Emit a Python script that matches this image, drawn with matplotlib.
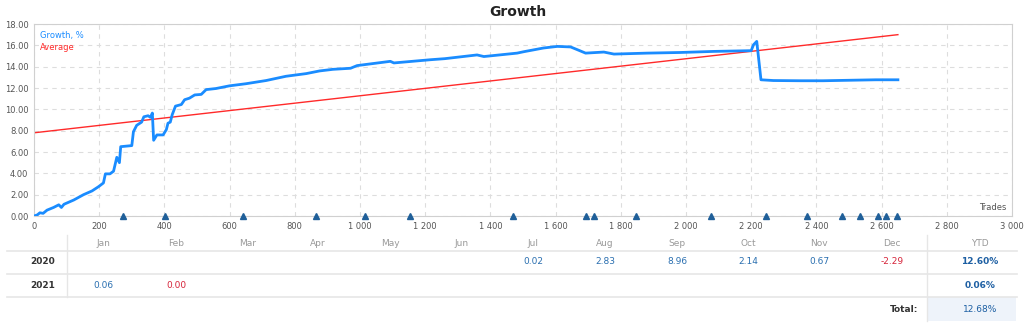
import numpy as np
import matplotlib
matplotlib.use("Agg")
import matplotlib.pyplot as plt
from matplotlib.ticker import FuncFormatter

# growth curve (trades, %)
trades = [0, 10, 18, 28, 40, 60, 76, 84, 92, 122, 152, 178, 198, 213, 219, 233, 244,
          254, 262, 266, 300, 305, 315, 330, 337, 350, 357, 363, 367, 377, 396, 406,
          411, 418, 424, 434, 452, 462, 477, 493, 513, 528, 558, 599, 650, 712, 773,
          835, 876, 917, 971, 991, 1093, 1104, 1216, 1260, 1359, 1380, 1482, 1502,
          1563, 1605, 1646, 1666, 1692, 1748, 1779, 1881, 1983, 2085, 2200, 2207,
          2217, 2230, 2268, 2350, 2420, 2582, 2650]
growth = [0.0, 0.1, 0.3, 0.25, 0.55, 0.8, 1.05, 0.8, 1.1, 1.5, 2.0, 2.35, 2.75, 3.1,
          3.95, 3.95, 4.2, 5.5, 5.0, 6.5, 6.6, 7.9, 8.5, 8.8, 9.3, 9.4, 9.25, 9.65,
          7.1, 7.6, 7.6, 8.1, 8.7, 8.8, 9.5, 10.3, 10.45, 10.9, 11.05, 11.35, 11.4,
          11.85, 11.95, 12.2, 12.4, 12.7, 13.1, 13.35, 13.6, 13.75, 13.85, 14.1, 14.5,
          14.35, 14.65, 14.75, 15.1, 14.95, 15.27, 15.4, 15.75, 15.9, 15.85, 15.6,
          15.27, 15.37, 15.18, 15.27, 15.33, 15.43, 15.5, 16.05, 16.37, 12.77, 12.7,
          12.68, 12.68, 12.77, 12.77]
avg_x = [0, 2650]
avg_y = [7.8, 17.0]
deposit_marks = [273, 403, 642, 865, 1015, 1152, 1468, 1692, 1717, 1848, 2077, 2244,
                 2372, 2477, 2533, 2589, 2614, 2647]

months = ["Jan", "Feb", "Mar", "Apr", "May", "Jun", "Jul", "Aug", "Sep", "Oct", "Nov", "Dec"]
years = ["2020", "2021"]
monthly = {
    "2020": [None, None, None, None, None, None, 0.02, 2.83, 8.96, 2.14, 0.67, -2.29],
    "2021": [0.06, 0.00, None, None, None, None, None, None, None, None, None, None],
}
ytd = {"2020": "12.60%", "2021": "0.06%"}
total = "12.68%"

W, H = 1024, 330
fig = plt.figure(figsize=(W / 100, H / 100), dpi=100)

ax = fig.add_axes([34 / W, 1 - 216 / H, (1012 - 34) / W, (216 - 24) / H])
ax.plot(trades, growth, color="#1a8cff", lw=2.0, solid_joinstyle="round", zorder=3)
ax.plot(avg_x, avg_y, color="#ff2a2a", lw=1.0, zorder=2)
ax.plot(deposit_marks, [0.0] * len(deposit_marks), "^", color="#1f5f99", ms=4.5,
        clip_on=False, zorder=4)
ax.set_xlim(0, 3000)
ax.set_ylim(0, 18)
ax.set_xticks(np.arange(0, 3001, 200))
ax.set_yticks(np.arange(0, 18.1, 2))
ax.xaxis.set_major_formatter(FuncFormatter(lambda v, p: f"{int(v):,}".replace(",", " ")))
ax.yaxis.set_major_formatter(FuncFormatter(lambda v, p: f"{v:.2f}"))
ax.tick_params(length=0, labelsize=6, colors="#555555", pad=4)
ax.grid(True, ls=(0, (4, 4)), color="#dddddd", lw=0.8)
for s in ax.spines.values():
    s.set_color("#d0d0d0")
ax.text(0.006, 0.965, "Growth, %", transform=ax.transAxes, color="#1a8cff",
        fontsize=6, va="top")
ax.text(0.006, 0.9, "Average", transform=ax.transAxes, color="#ff2a2a",
        fontsize=6, va="top")
ax.text(0.994, 0.02, "Trades", transform=ax.transAxes, color="#555555",
        fontsize=6, ha="right", va="bottom")
fig.text(518 / W, 1 - 12 / H, "Growth", ha="center", va="center", fontsize=10,
         fontweight="bold", color="#222222")

# table
tb = fig.add_axes([0, 0, 1, 1])
tb.set_xlim(0, W)
tb.set_ylim(H, 0)
tb.axis("off")
tb.patch.set_alpha(0)
month_x = [103, 176, 248, 318, 390, 462, 533, 605, 677, 748, 819, 892]
row_y = [262, 286]
tb.fill_between([927, 1016], 297, 321, color="#eef3fa", lw=0)
for y in [251, 274, 297]:
    tb.plot([7, 1017], [y, y], color="#e6e6e6", lw=1.2)
tb.plot([67, 67], [235, 297], color="#e6e6e6", lw=1)
tb.plot([927, 927], [235, 321], color="#e6e6e6", lw=1)
for mx, m in zip(month_x, months):
    tb.text(mx, 243, m, ha="center", va="center", fontsize=6.5, color="#999999")
tb.text(980, 243, "YTD", ha="center", va="center", fontsize=6.5, color="#999999")
for ry, yr in zip(row_y, years):
    tb.text(43, ry, yr, ha="center", va="center", fontsize=6.5, fontweight="bold",
            color="#333333")
    for mx, v in zip(month_x, monthly[yr]):
        if v is None:
            continue
        c = "#d6243a" if v < 0 or (v == 0 and yr == "2021") else "#2a6fb0"
        tb.text(mx, ry, f"{v:.2f}", ha="center", va="center", fontsize=6.5, color=c)
    tb.text(980, ry, ytd[yr], ha="center", va="center", fontsize=6.5,
            fontweight="bold", color="#1d5fa3")
tb.text(918, 309, "Total:", ha="right", va="center", fontsize=6.5, fontweight="bold",
        color="#333333")
tb.text(980, 309, total, ha="center", va="center", fontsize=6.5, color="#1d5fa3")

fig.savefig("out.png", dpi=100)
